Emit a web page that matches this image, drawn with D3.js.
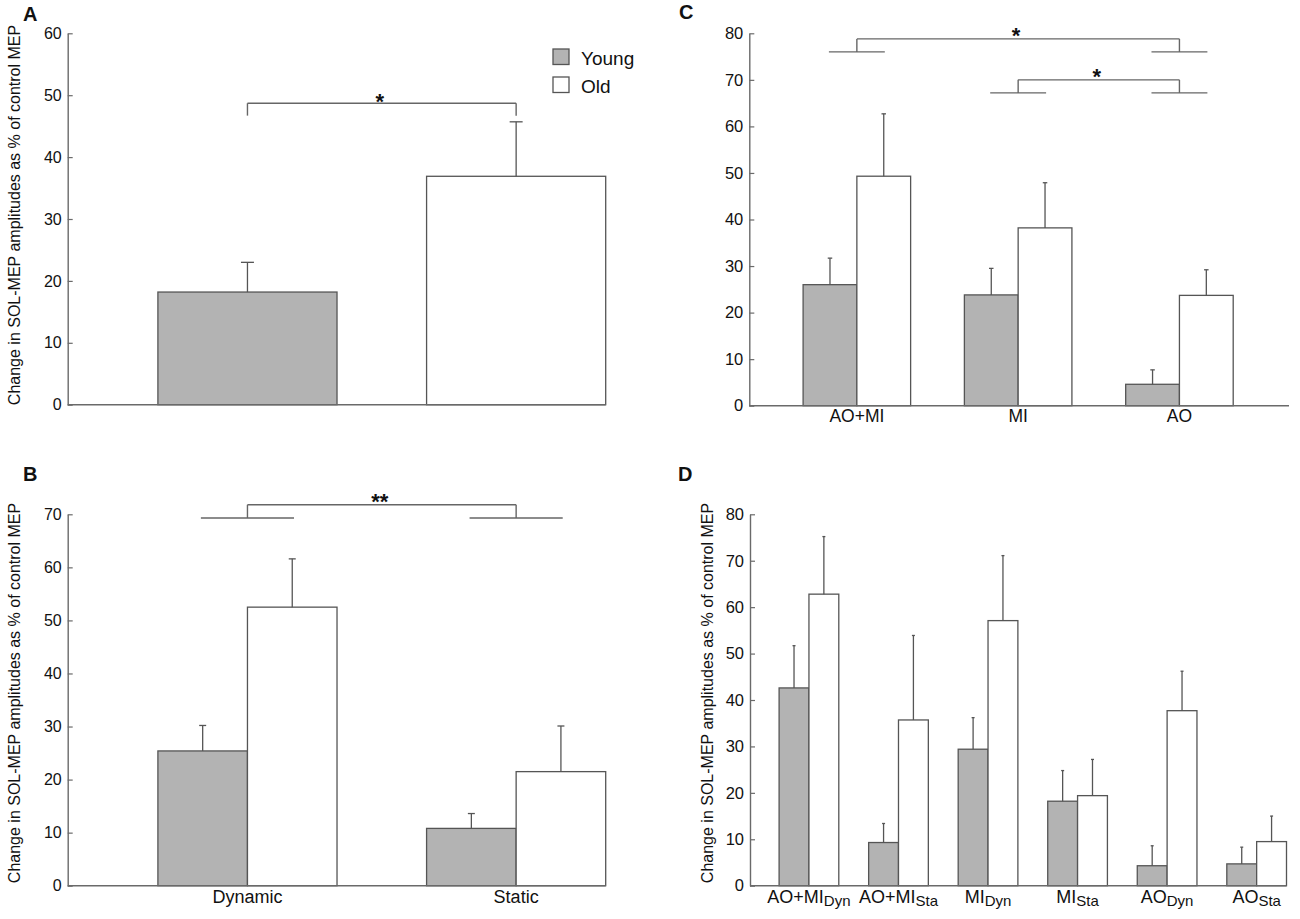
<!DOCTYPE html>
<html><head><meta charset="utf-8">
<script src="https://cdn.jsdelivr.net/npm/d3@7"></script>
<style>
body{margin:0;background:#fff}
svg{display:block}
text{font-family:"Liberation Sans",Arial,Helvetica,sans-serif;fill:#111}
</style>
</head><body>
<svg id="chart" width="1300" height="919"></svg>
<script>
// ---------------- DATA ----------------
const seriesNames = ["Young", "Old"];
const yLabelText = "Change in SOL-MEP amplitudes as % of control MEP";

// Panel A
const aCategories = ["Young", "Old"];
const aValues = [18.2, 36.9];
const aSEM = [4.8, 8.8];
const aTicks = [0, 10, 20, 30, 40, 50, 60];

// Panel B
const bCategories = ["Dynamic", "Static"];
const bYoung = [25.4, 10.8];
const bYoungSEM = [4.8, 2.8];
const bOld = [52.5, 21.5];
const bOldSEM = [9.1, 8.6];
const bTicks = [0, 10, 20, 30, 40, 50, 60, 70];

// Panel C
const cCategories = ["AO+MI", "MI", "AO"];
const cYoung = [26.0, 23.8, 4.6];
const cYoungSEM = [5.7, 5.7, 3.1];
const cOld = [49.3, 38.2, 23.7];
const cOldSEM = [13.4, 9.7, 5.5];
const cTicks = [0, 10, 20, 30, 40, 50, 60, 70, 80];

// Panel D
const dCategories = ["AO+MI_Dyn", "AO+MI_Sta", "MI_Dyn", "MI_Sta", "AO_Dyn", "AO_Sta"];
const dLabelMain = ["AO+MI", "AO+MI", "MI", "MI", "AO", "AO"];
const dLabelSub = ["Dyn", "Sta", "Dyn", "Sta", "Dyn", "Sta"];
const dYoung = [42.6, 9.3, 29.4, 18.2, 4.3, 4.7];
const dYoungSEM = [9.1, 4.1, 6.8, 6.6, 4.3, 3.6];
const dOld = [62.8, 35.7, 57.1, 19.4, 37.7, 9.5];
const dOldSEM = [12.4, 18.2, 14.0, 7.8, 8.5, 5.5];
const dTicks = [0, 10, 20, 30, 40, 50, 60, 70, 80];

// Significance brackets
const aBrackets = [{from: "Young", to: "Old", top: 48.7, base: 46.7, label: "*"}];
const bBrackets = [{from: "Dynamic", to: "Static", top: 71.8, base: 69.3, label: "**"}];
const cBrackets = [
  {from: "AO+MI", to: "AO", top: 78.8, base: 76.0, label: "*"},
  {from: "MI", to: "AO", top: 70.0, base: 67.2, label: "*"}
];

// ---------------- STYLE ----------------
const FILL = {Young: "#b3b3b3", Old: "#ffffff"};
const BAR_STROKE = "#555555";
const AXIS_COLOR = "#6a6a6a";

const svg = d3.select("#chart");

function groupedBars(groups, young, youngSem, old, oldSem) {
  const out = [];
  groups.forEach((g, i) => {
    out.push({group: g, inner: "Young", series: "Young", value: young[i], sem: youngSem[i]});
    out.push({group: g, inner: "Old", series: "Old", value: old[i], sem: oldSem[i]});
  });
  return out;
}

function drawPanel(p) {
  const g = svg.append("g");
  const y = d3.scaleLinear().domain([0, p.ymax]).range([p.yBottom, p.yTop]);
  const x = d3.scaleBand().domain(p.groups).range([p.xStart, p.xEnd]).paddingInner(1 / 3).paddingOuter(0);
  const xi = d3.scaleBand().domain(p.innerKeys).range([0, x.bandwidth()]).padding(0);
  const cx = grp => x(grp) + x.bandwidth() / 2;

  // bars
  g.selectAll("rect.bar").data(p.bars).enter().append("rect")
    .attr("class", "bar")
    .attr("x", d => x(d.group) + xi(d.inner))
    .attr("y", d => y(d.value))
    .attr("width", xi.bandwidth())
    .attr("height", d => y(0) - y(d.value))
    .attr("fill", d => FILL[d.series])
    .attr("stroke", BAR_STROKE)
    .attr("stroke-width", 1.3);

  // error bars
  const eb = g.selectAll("g.err").data(p.bars).enter().append("g").attr("class", "err");
  const bx = d => x(d.group) + xi(d.inner) + xi.bandwidth() / 2;
  eb.append("line")
    .attr("x1", bx).attr("x2", bx)
    .attr("y1", d => y(d.value)).attr("y2", d => y(d.value + d.sem))
    .attr("stroke", BAR_STROKE).attr("stroke-width", 1.3);
  eb.append("line")
    .attr("x1", d => bx(d) - p.capW / 2).attr("x2", d => bx(d) + p.capW / 2)
    .attr("y1", d => y(d.value + d.sem)).attr("y2", d => y(d.value + d.sem))
    .attr("stroke", BAR_STROKE).attr("stroke-width", 1.3);

  // y axis
  const ax = g.append("g")
    .attr("transform", `translate(${p.axisX},0)`)
    .call(d3.axisLeft(y).tickValues(p.ticks).tickFormat(d3.format("d"))
      .tickSize(-5).tickSizeOuter(0).tickPadding(6));
  ax.select(".domain").attr("stroke", AXIS_COLOR).attr("stroke-width", 1.4);
  ax.selectAll(".tick line").attr("stroke", AXIS_COLOR).attr("stroke-width", 1.2);
  ax.selectAll(".tick text").attr("font-size", p.tickFont).attr("fill", "#111")
    .attr("font-family", '"Liberation Sans",Arial,sans-serif');

  // x axis baseline
  g.append("line")
    .attr("x1", p.axisX).attr("x2", p.axisEnd || p.xEnd)
    .attr("y1", y(0)).attr("y2", y(0))
    .attr("stroke", AXIS_COLOR).attr("stroke-width", 1.4);

  // brackets
  (p.brackets || []).forEach(b => {
    const x1 = cx(b.from), x2 = cx(b.to);
    const line = (a, b2, c, d) => g.append("line").attr("x1", a).attr("x2", b2).attr("y1", c).attr("y2", d)
      .attr("stroke", "#666").attr("stroke-width", 1.4);
    line(x1, x2, y(b.top), y(b.top));
    line(x1, x1, y(b.top), y(b.base));
    line(x2, x2, y(b.top), y(b.base));
    if (p.bracketStyle === "shelf") {
      const hw = x.bandwidth() * 0.26;
      line(x1 - hw, x1 + hw, y(b.base), y(b.base));
      line(x2 - hw, x2 + hw, y(b.base), y(b.base));
    }
    g.append("text")
      .attr("x", (x1 + x2) / 2 - 2)
      .attr("y", y(b.top) - p.starGap + 12.5)
      .attr("text-anchor", "middle")
      .attr("font-size", 22).attr("font-weight", "bold")
      .text(b.label);
  });

  // x labels
  if (p.xLabels) {
    p.groups.forEach((grp, i) => {
      const t = g.append("text")
        .attr("x", cx(grp)).attr("y", p.xLabelY)
        .attr("text-anchor", "middle")
        .attr("font-size", p.xLabelFont);
      t.append("tspan").text(p.xLabels[i]);
      if (p.xSubs) {
        t.append("tspan").attr("font-size", p.xLabelFont - 3).attr("dy", 3).text(p.xSubs[i]);
      }
    });
  }

  // y label
  if (p.yLabel) {
    g.append("text")
      .attr("transform", `translate(${p.yLabel.x},${p.yLabel.y}) rotate(-90)`)
      .attr("text-anchor", "middle")
      .attr("font-size", 16)
      .text(yLabelText);
  }

  // panel letter
  g.append("text")
    .attr("x", p.letterPos[0]).attr("y", p.letterPos[1])
    .attr("font-size", 20).attr("font-weight", "bold")
    .text(p.letter);
  return {x, y};
}

// Panel A
drawPanel({
  groups: aCategories,
  innerKeys: ["single"],
  bars: aCategories.map((c, i) => ({group: c, inner: "single", series: c, value: aValues[i], sem: aSEM[i]})),
  ymax: 60, ticks: aTicks, yBottom: 404.7, yTop: 33.3,
  xStart: 157.9, xEnd: 605.7, axisX: 67.7,
  capW: 13, tickFont: 16,
  brackets: aBrackets, bracketStyle: "drop", starGap: 6.6,
  yLabel: {x: 20, y: 215},
  letter: "A", letterPos: [23, 21]
});

// Panel B
drawPanel({
  groups: bCategories,
  innerKeys: seriesNames,
  bars: groupedBars(bCategories, bYoung, bYoungSEM, bOld, bOldSEM),
  ymax: 70, ticks: bTicks, yBottom: 885.7, yTop: 514.3,
  xStart: 157.9, xEnd: 605.7, axisX: 67.7,
  capW: 7, tickFont: 16,
  brackets: bBrackets, bracketStyle: "shelf", starGap: 8,
  xLabels: bCategories, xLabelY: 903, xLabelFont: 18,
  yLabel: {x: 20, y: 693},
  letter: "B", letterPos: [23, 481]
});

// Panel C
drawPanel({
  groups: cCategories,
  innerKeys: seriesNames,
  bars: groupedBars(cCategories, cYoung, cYoungSEM, cOld, cOldSEM),
  ymax: 80, ticks: cTicks, yBottom: 405.7, yTop: 33.3,
  xStart: 803.1, xEnd: 1233.2, axisX: 749.3, axisEnd: 1289,
  capW: 4.5, tickFont: 16.5,
  brackets: cBrackets, bracketStyle: "shelf", starGap: 8,
  xLabels: cCategories, xLabelY: 422, xLabelFont: 17.5,
  letter: "C", letterPos: [679, 18.5]
});

// Panel D
drawPanel({
  groups: dCategories,
  innerKeys: seriesNames,
  bars: groupedBars(dCategories, dYoung, dYoungSEM, dOld, dOldSEM),
  ymax: 80, ticks: dTicks, yBottom: 885.7, yTop: 514.3,
  xStart: 779.1, xEnd: 1286.5, axisX: 750,
  capW: 3, tickFont: 16.5,
  xLabels: dLabelMain, xSubs: dLabelSub, xLabelY: 903, xLabelFont: 18,
  yLabel: {x: 713, y: 693},
  letter: "D", letterPos: [678, 481]
});

// Legend (panel A)
const legend = svg.append("g");
seriesNames.forEach((s, i) => {
  legend.append("rect").attr("x", 553).attr("y", 49 + i * 28).attr("width", 16).attr("height", 15.5)
    .attr("fill", FILL[s]).attr("stroke", BAR_STROKE).attr("stroke-width", 1.3);
  legend.append("text").attr("x", 581).attr("y", 65 + i * 28.3).attr("font-size", 19).text(s);
});
</script>
</body></html>
